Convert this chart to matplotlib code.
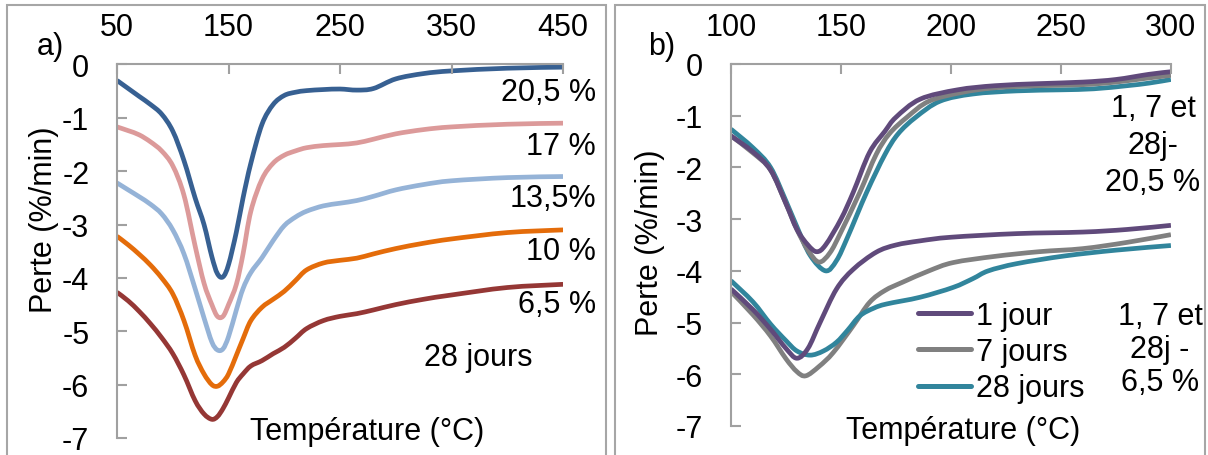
import matplotlib.pyplot as plt
from matplotlib.patches import Rectangle, PathPatch
from matplotlib.path import Path
from matplotlib.lines import Line2D

plt.rcParams['font.family'] = ['Liberation Sans', 'DejaVu Sans']
plt.rcParams['axes.unicode_minus'] = False

# a) 28 jours, differents dosages
temp_a = [50, 60, 70, 80, 90, 100, 110, 120, 128, 135, 140, 145, 150, 157, 163, 170,
          180, 190, 200, 210, 220, 235, 250, 265, 280, 300, 325, 350, 400, 450]
p205 = [-0.30, -0.45, -0.60, -0.75, -0.93, -1.25, -1.80, -2.50, -3.00, -3.60, -3.92, -3.98,
        -3.75, -3.14, -2.50, -1.85, -1.12, -0.75, -0.58, -0.52, -0.49, -0.47, -0.46, -0.48,
        -0.45, -0.27, -0.17, -0.12, -0.07, -0.05]
p17 = [-1.17, -1.24, -1.32, -1.45, -1.62, -1.90, -2.45, -3.40, -4.10, -4.50, -4.72, -4.72,
       -4.50, -4.12, -3.55, -2.75, -2.15, -1.85, -1.70, -1.62, -1.56, -1.52, -1.50, -1.47,
       -1.40, -1.30, -1.22, -1.17, -1.12, -1.10]
p135 = [-2.22, -2.35, -2.48, -2.62, -2.80, -3.10, -3.55, -4.20, -4.75, -5.20, -5.35, -5.33,
        -5.10, -4.60, -4.20, -3.90, -3.62, -3.30, -3.02, -2.86, -2.75, -2.65, -2.60, -2.55,
        -2.47, -2.35, -2.25, -2.18, -2.12, -2.10]
p10 = [-3.22, -3.38, -3.56, -3.76, -4.00, -4.30, -4.80, -5.45, -5.80, -6.00, -6.03, -5.95,
       -5.80, -5.45, -5.14, -4.80, -4.55, -4.40, -4.25, -4.05, -3.85, -3.72, -3.67, -3.63,
       -3.55, -3.45, -3.35, -3.27, -3.15, -3.10]
p65 = [-4.27, -4.43, -4.63, -4.86, -5.12, -5.42, -5.82, -6.30, -6.55, -6.65, -6.60, -6.45,
       -6.25, -5.96, -5.80, -5.65, -5.55, -5.42, -5.30, -5.13, -4.95, -4.80, -4.72, -4.67,
       -4.60, -4.50, -4.40, -4.32, -4.18, -4.12]

# b) 1, 7 et 28 jours
t_j1_h = [100, 110, 118, 125, 130, 135, 139, 143, 150, 155.6, 163, 170, 175, 186, 203, 220, 240, 260, 275, 290, 300]
j1_h = [-1.39, -1.70, -2.05, -2.70, -3.20, -3.50, -3.63, -3.50, -3.00, -2.48, -1.71, -1.30, -1.03, -0.68, -0.50, -0.42, -0.38, -0.35, -0.30, -0.20, -0.15]
t_j7_h = [100, 110, 118, 125, 130, 135, 140, 145, 150, 158.6, 166, 172, 180, 190, 205, 220, 240, 260, 275, 290, 300]
j7_h = [-1.39, -1.72, -2.05, -2.70, -3.20, -3.60, -3.83, -3.65, -3.25, -2.48, -1.75, -1.35, -1.03, -0.72, -0.55, -0.46, -0.42, -0.40, -0.35, -0.27, -0.22]
t_j28_h = [100, 110, 118, 125, 130, 136, 143, 148, 153, 161.7, 170, 176, 184, 195, 210, 230, 250, 265, 280, 290, 300]
j28_h = [-1.26, -1.62, -2.00, -2.65, -3.15, -3.70, -4.00, -3.80, -3.35, -2.48, -1.75, -1.35, -1.03, -0.72, -0.58, -0.52, -0.50, -0.48, -0.42, -0.37, -0.30]

t_j1_b = [100, 110, 118, 125, 130, 135, 140.5, 148, 155.6, 166, 175, 186, 200, 230, 260, 280, 300]
j1_b = [-4.35, -4.75, -5.13, -5.50, -5.69, -5.50, -5.00, -4.35, -3.97, -3.64, -3.50, -3.42, -3.35, -3.28, -3.25, -3.20, -3.12]
t_j7_b = [100, 110, 118, 125, 130, 134, 140, 146.5, 155.6, 163, 170, 178, 190, 201, 220, 240, 260, 280, 300]
j7_b = [-4.40, -4.85, -5.26, -5.70, -5.95, -6.03, -5.85, -5.58, -5.06, -4.61, -4.38, -4.22, -4.00, -3.84, -3.72, -3.63, -3.57, -3.45, -3.30]
t_j28_b = [100, 110, 118, 125, 130, 136, 142, 148, 153, 158.6, 165, 170.8, 186, 201, 210, 217, 230, 252, 275, 300]
j28_b = [-4.19, -4.60, -5.03, -5.35, -5.55, -5.63, -5.55, -5.38, -5.15, -4.87, -4.72, -4.64, -4.51, -4.32, -4.15, -4.00, -3.86, -3.71, -3.60, -3.51]

W, H = 1208, 456
fig = plt.figure(figsize=(W / 100, H / 100), dpi=100)

def px(x, y):
    return x / W, 1 - y / H

def smooth(ax, x, y, color, lw=3.4):
    # ligne lissee facon Excel (courbes de Bezier passant par les points)
    pts = list(zip(x, y))
    n = len(pts)
    verts = [pts[0]]
    codes = [Path.MOVETO]
    for i in range(n - 1):
        p0 = pts[max(i - 1, 0)]
        p1 = pts[i]
        p2 = pts[i + 1]
        p3 = pts[min(i + 2, n - 1)]
        c1 = (p1[0] + (p2[0] - p0[0]) / 6, p1[1] + (p2[1] - p0[1]) / 6)
        c2 = (p2[0] - (p3[0] - p1[0]) / 6, p2[1] - (p3[1] - p1[1]) / 6)
        verts += [c1, c2, p2]
        codes += [Path.CURVE4] * 3
    ax.add_patch(PathPatch(Path(verts, codes), fill=False, edgecolor=color,
                           linewidth=lw, capstyle='butt', joinstyle='round'))

# cadres des deux graphiques
for x0, x1 in [(7, 606), (615, 1205)]:
    fig.patches.append(Rectangle((x0 / W, -0.05), (x1 - x0) / W, 1 - 6 / H + 0.05,
                                 transform=fig.transFigure, fill=False,
                                 edgecolor='#A6A6A6', linewidth=1.5))

ax1 = fig.add_axes([0.0969, 0.0373, 0.3692, 0.8191])
ax2 = fig.add_axes([0.6051, 0.0636, 0.3642, 0.7939])

for ax in (ax1, ax2):
    ax.set_facecolor('none')
    ax.set_ylim(-7, 0)
    ax.set_yticks(range(0, -8, -1))
    ax.xaxis.tick_top()
    ax.spines['right'].set_visible(False)
    ax.spines['bottom'].set_visible(False)
    for s in ('left', 'top'):
        ax.spines[s].set_color('#A0A0A0')
        ax.spines[s].set_linewidth(1.5)
    ax.tick_params(direction='in', length=7, width=1.5, color='#A0A0A0',
                   labelsize=22, pad=20)
    ax.tick_params(axis='x', pad=16)

ax1.set_xlim(50, 450)
ax1.set_xticks([50, 150, 250, 350, 450])
smooth(ax1, temp_a, p205, '#376092')
smooth(ax1, temp_a, p17, '#DC9A9A')
smooth(ax1, temp_a, p135, '#95B3D7')
smooth(ax1, temp_a, p10, '#E46C0A')
smooth(ax1, temp_a, p65, '#953735')

ax2.set_xlim(100, 300)
ax2.set_xticks([100, 150, 200, 250, 300])
c1, c7, c28 = '#604A7B', '#808080', '#31859C'
smooth(ax2, t_j7_b, j7_b, c7)
smooth(ax2, t_j28_b, j28_b, c28)
smooth(ax2, t_j1_b, j1_b, c1)
smooth(ax2, t_j28_h, j28_h, c28)
smooth(ax2, t_j7_h, j7_h, c7)
smooth(ax2, t_j1_h, j1_h, c1)

handles = [Line2D([], [], color=c, lw=3.6, solid_capstyle='round') for c in (c1, c7, c28)]
fig.legend(handles, ['1 jour', '7 jours', '28 jours'], loc='upper left',
           bbox_to_anchor=px(918, 302), frameon=False, fontsize=22, handlelength=1.75,
           handletextpad=0.15, labelspacing=0.2, borderpad=0, borderaxespad=0)

txt = dict(fontsize=22, va='center')
fig.text(*px(50, 47), 'a)', ha='center', **txt)
fig.text(*px(662, 47), 'b)', ha='center', **txt)
fig.text(*px(596, 93), '20,5 %', ha='right', **txt)
fig.text(*px(596, 147), '17 %', ha='right', **txt)
fig.text(*px(596, 199), '13,5%', ha='right', **txt)
fig.text(*px(596, 252), '10 %', ha='right', **txt)
fig.text(*px(596, 305), '6,5 %', ha='right', **txt)
fig.text(*px(478, 358), '28 jours', ha='center', **txt)
fig.text(*px(367, 432), 'Température (°C)', ha='center', **txt)
fig.text(*px(963, 431), 'Température (°C)', ha='center', **txt)
fig.text(*px(44, 220), 'Perte (%/min)', ha='center', rotation=90, **txt)
fig.text(*px(650, 243), 'Perte (%/min)', ha='center', rotation=90, **txt)
fig.text(*px(1153, 146), '1, 7 et\n28j-\n20,5 %', ha='center', multialignment='center',
         linespacing=1.3, **txt)
fig.text(*px(1160, 350), '1, 7 et\n28j -\n6,5 %', ha='center', multialignment='center',
         linespacing=1.13, **txt)

fig.savefig('out.png', dpi=100)
